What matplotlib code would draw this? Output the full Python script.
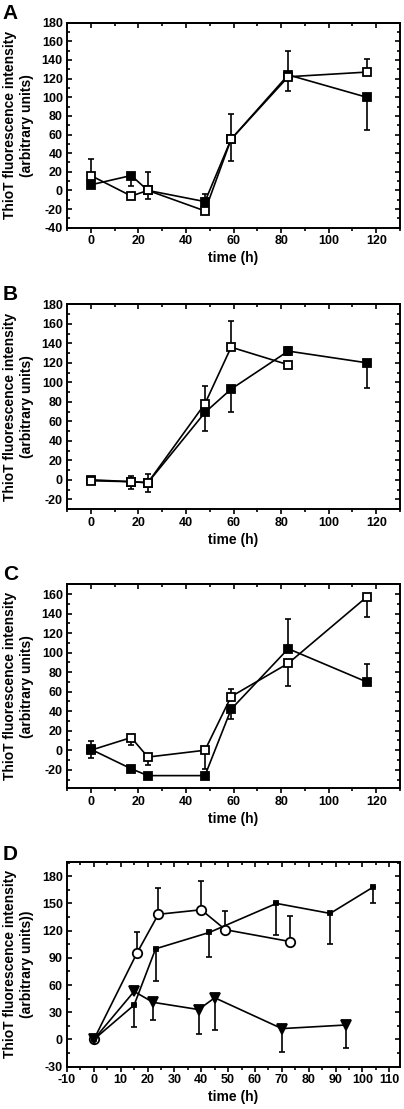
import matplotlib
matplotlib.use("Agg")
import matplotlib.pyplot as plt
from matplotlib.ticker import MultipleLocator

plt.rcParams['font.family'] = ['Liberation Sans', 'DejaVu Sans']
plt.rcParams['font.weight'] = 'bold'
plt.rcParams['axes.labelweight'] = 'bold'
plt.rcParams['axes.unicode_minus'] = False

# ---------------- data ----------------
A_time = [0, 17, 24, 48, 59, 83, 116]
A_filled = [6, 16, 0, -12, 55, 124, 100]
A_filled_lo = [0, 11, 0, 0, 0, 0, 35]
A_filled_hi = [0, 0, 0, 8, 0, 0, 0]
A_open = [16, -6, 0, -22, 55, 122, 127]
A_open_lo = [0, 0, 9, 0, 23, 15, 0]
A_open_hi = [18, 0, 20, 0, 27, 28, 14]

B_filled_time = [0, 17, 24, 48, 59, 83, 116]
B_filled = [0, -2, -3, 69, 93, 132, 120]
B_filled_lo = [0, 0, 0, 19, 23, 4, 26]
B_filled_hi = [0, 0, 0, 0, 0, 4, 0]
B_open_time = [0, 17, 24, 48, 59, 83]
B_open = [-1, -2, -3, 78, 136, 118]
B_open_lo = [0, 7, 10, 0, 0, 0]
B_open_hi = [0, 6, 9, 18, 27, 0]

C_time = [0, 17, 24, 48, 59, 83, 116]
C_filled = [1, -19, -26, -26, 42, 104, 70]
C_filled_lo = [9, 0, 0, 0, 10, 0, 0]
C_filled_hi = [8, 0, 0, 0, 0, 30, 18]
C_open = [0, 13, -7, 0, 55, 89, 157]
C_open_lo = [0, 8, 8, 19, 0, 23, 21]
C_open_hi = [0, 0, 0, 0, 8, 0, 0]

D_circle_time = [0, 16, 24, 40, 49, 73]
D_circle = [0, 95, 138, 143, 121, 108]
D_circle_hi = [0, 24, 29, 32, 21, 28]
D_square_time = [0, 15, 23, 43, 68, 88, 104]
D_square = [0, 38, 100, 118, 150, 139, 168]
D_square_lo = [0, 24, 36, 27, 35, 34, 18]
D_tri_time = [0, 15, 22, 39, 45, 70, 94]
D_tri = [0, 53, 41, 33, 46, 12, 16]
D_tri_lo = [0, 0, 19, 27, 35, 26, 25]

panel_labels = ['A', 'B', 'C', 'D']
ylabel_text = 'ThioT fluorescence intensity\n(arbitrary units)'
ylabel_text_D = 'ThioT fluorescence intensity\n(arbitrary units))'
xlabel_text = 'time (h)'

# ---------------- layout ----------------
W, H = 404, 1109
fig = plt.figure(figsize=(W / 100, H / 100), dpi=100)

def make_axes(top, bottom, left=67, right=400):
    return fig.add_axes([left / W, 1 - bottom / H, (right - left) / W, (bottom - top) / H])

LW = 1.2
TICKFS = 9
LABFS = 10

def style(ax, xlim, ylim, xmaj, xmin, ymaj, ymin, ylab, top_px, bottom_px):
    ax.set_xlim(*xlim)
    ax.set_ylim(*ylim)
    ax.xaxis.set_major_locator(MultipleLocator(xmaj))
    ax.xaxis.set_minor_locator(MultipleLocator(xmin))
    ax.yaxis.set_major_locator(MultipleLocator(ymaj))
    ax.yaxis.set_minor_locator(MultipleLocator(ymin))
    for s in ax.spines.values():
        s.set_linewidth(1.4)
    ax.tick_params(axis='x', which='both', direction='out', bottom=True, top=False,
                   width=1.2, labelsize=TICKFS, pad=2)
    ax.tick_params(axis='x', which='major', length=3.5)
    ax.tick_params(axis='x', which='minor', length=2)
    ax.tick_params(axis='y', which='both', direction='in', left=True, right=True,
                   width=1.2, labelsize=TICKFS, pad=3)
    ax.tick_params(axis='y', which='major', length=3.5)
    ax.tick_params(axis='y', which='minor', length=2)
    sec = ax.secondary_xaxis('top')
    sec.xaxis.set_major_locator(MultipleLocator(xmaj))
    sec.xaxis.set_minor_locator(MultipleLocator(xmin))
    sec.tick_params(axis='x', which='both', direction='in', width=1.2, labeltop=False)
    sec.tick_params(axis='x', which='major', length=3.5)
    sec.tick_params(axis='x', which='minor', length=2)
    sec.spines['top'].set_linewidth(1.4)
    h = bottom_px - top_px
    ax.text(-48.5 / 333, 0.5, ylab, transform=ax.transAxes, rotation=90,
            ha='center', va='center', multialignment='center', fontsize=LABFS,
            fontweight='bold')
    ax.text(0.5, -30.6 / h, xlabel_text, transform=ax.transAxes, ha='center',
            va='center', fontsize=LABFS, fontweight='bold')
    for t in ax.get_xticklabels() + ax.get_yticklabels():
        t.set_fontweight('bold')

def panel_letter(letter, cx, cy):
    fig.text(cx / W, 1 - cy / H, letter, ha='center', va='center', fontsize=15,
             fontweight='bold')

def series(ax, x, y, lo, hi, filled, marker='s', ms=5.2, z=3):
    ax.errorbar(x, y, yerr=[lo, hi], fmt='none', ecolor='black', elinewidth=LW,
                capsize=2.2, capthick=LW, zorder=z - 1)
    ax.plot(x, y, color='black', lw=LW, marker=marker, ms=ms,
            mfc='black' if filled else 'white', mec='black', mew=1.3, zorder=z)

# Panel A
axA = make_axes(22.7, 227.7)
series(axA, A_time, A_filled, A_filled_lo, A_filled_hi, True, z=3)
series(axA, A_time, A_open, A_open_lo, A_open_hi, False, z=5)
style(axA, (-10, 130), (-40, 180), 20, 10, 20, 10, ylabel_text, 22.7, 227.7)
panel_letter(panel_labels[0], 10.5, 13.5)

# Panel B
axB = make_axes(304.3, 509)
series(axB, B_filled_time, B_filled, B_filled_lo, B_filled_hi, True, z=3)
series(axB, B_open_time, B_open, B_open_lo, B_open_hi, False, z=5)
style(axB, (-10, 130), (-30, 180), 20, 10, 20, 10, ylabel_text, 304.3, 509)
panel_letter(panel_labels[1], 10.5, 295)

# Panel C
axC = make_axes(584.3, 788.3)
series(axC, C_time, C_open, C_open_lo, C_open_hi, False, z=3)
series(axC, C_time, C_filled, C_filled_lo, C_filled_hi, True, z=5)
style(axC, (-10, 130), (-39, 170), 20, 10, 20, 10, ylabel_text, 584.3, 788.3)
panel_letter(panel_labels[2], 10.5, 575)

# Panel D
axD = make_axes(861.7, 1066.7)
series(axD, D_circle_time, D_circle, [0] * len(D_circle), D_circle_hi, False,
       marker='o', ms=6.8, z=3)
series(axD, D_square_time, D_square, D_square_lo, [0] * len(D_square), True,
       marker='s', ms=3.4, z=5)
series(axD, D_tri_time, D_tri, D_tri_lo, [0] * len(D_tri), True,
       marker='v', ms=7.5, z=6)
style(axD, (-10, 114), (-30, 196), 10, 5, 30, 15, ylabel_text_D, 861.7, 1066.7)
panel_letter(panel_labels[3], 10.5, 855)

fig.savefig('out.png', dpi=100)
